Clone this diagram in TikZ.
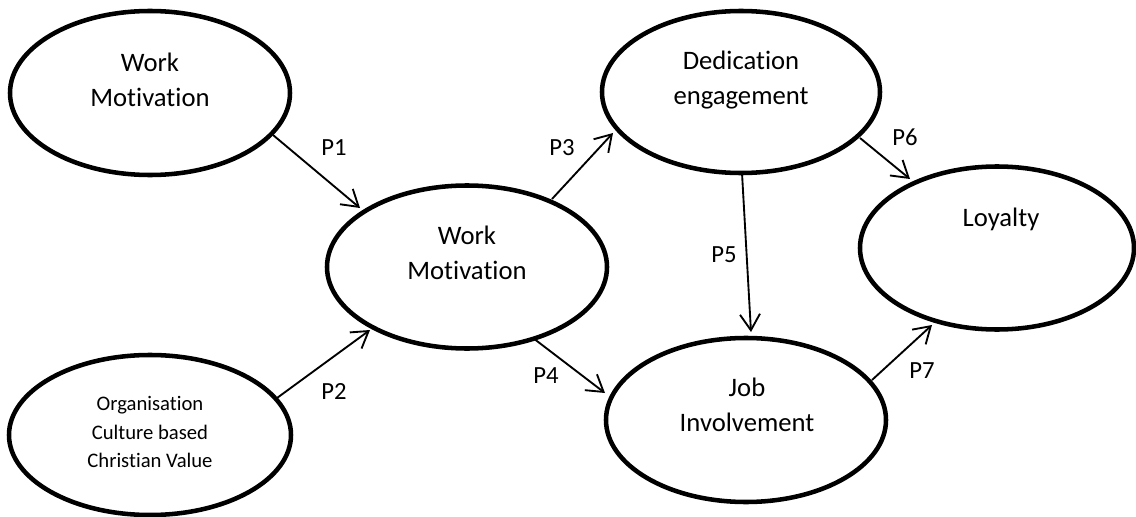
\documentclass[tikz,border=0pt]{standalone}
\usepackage{fontspec}
\setmainfont{Carlito}[Ligatures=NoCommon]
\usetikzlibrary{shapes.geometric,arrows.meta}
\begin{document}
\begin{tikzpicture}[x=0.75pt,y=-0.75pt,
  oval/.style={draw,ellipse,line width=3.4pt,inner sep=0pt},
  lbl/.style={align=center,font=\fontsize{20}{26}\selectfont,inner sep=0pt},
  plbl/.style={font=\fontsize{18.5}{22}\selectfont,inner sep=0pt},
  link/.style={line width=1.4pt,-{Straight Barb[length=12pt,width=15pt]}}]
\useasboundingbox (0,0) rectangle (1136,517);
% ellipses
\node[oval,minimum width=280*0.75pt,minimum height=164*0.75pt] (wm1) at (150,93) {};
\node[oval,minimum width=282*0.75pt,minimum height=160*0.75pt] (occ) at (150,435) {};
\node[oval,minimum width=280*0.75pt,minimum height=163*0.75pt] (wm2) at (467,267) {};
\node[oval,minimum width=278*0.75pt,minimum height=162*0.75pt] (ded) at (741,92) {};
\node[oval,minimum width=274*0.75pt,minimum height=163*0.75pt] (loy) at (997,248) {};
\node[oval,minimum width=280*0.75pt,minimum height=164*0.75pt] (job) at (746,420) {};
% texts
\node[lbl] (twm1) at (150,80) {Work\\Motivation};
\node[lbl,font=\fontsize{15.5}{21.4}\selectfont] (tocc) at (150,432) {Organisation\\Culture based\\Christian Value};
\node[lbl] (twm2) at (467,253) {Work\\Motivation};
\node[lbl] (tded) at (741,80) {Dedication\\engagement};
\node[lbl] (tloy) at (1001,219) {Loyalty};
\node[lbl] (tjob) at (747,405) {Job\\Involvement};
% arrow end points
\coordinate (p1s) at (273,135); \coordinate (p1e) at (360,208);
\coordinate (p2s) at (277,398); \coordinate (p2e) at (370,330);
\coordinate (p3s) at (552,199); \coordinate (p3e) at (613,133);
\coordinate (p4s) at (533,338); \coordinate (p4e) at (605,393);
\coordinate (p5s) at (742,173); \coordinate (p5e) at (751,332);
\coordinate (p6s) at (860,138); \coordinate (p6e) at (910,179);
\coordinate (p7s) at (872,380); \coordinate (p7e) at (932,325);
\draw[link] (p1s) -- (p1e);
\draw[link] (p2s) -- (p2e);
\draw[link] (p3s) -- (p3e);
\draw[link] (p4s) -- (p4e);
\draw[link] (p5s) -- (p5e);
\draw[link] (p6s) -- (p6e);
\draw[link] (p7s) -- (p7e);
% path labels
\node[plbl] (l1) at (334,148) {P1};
\node[plbl] (l2) at (334,391) {P2};
\node[plbl] (l3) at (562,148) {P3};
\node[plbl] (l4) at (546,376) {P4};
\node[plbl] (l5) at (724,255) {P5};
\node[plbl] (l6) at (905,137) {P6};
\node[plbl] (l7) at (922,371) {P7};
\end{tikzpicture}
\end{document}
